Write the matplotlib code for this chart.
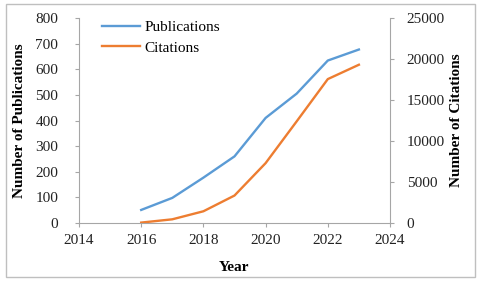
import matplotlib
matplotlib.use('Agg')
import matplotlib.pyplot as plt
from matplotlib.patches import Rectangle

plt.rcParams['font.family'] = 'Liberation Serif'

years = [2016, 2017, 2018, 2019, 2020, 2021, 2022, 2023]
publications = [51, 98, 177, 260, 410, 505, 634, 677]
citations = [50, 450, 1430, 3350, 7300, 12400, 17550, 19300]

blue = '#5B9BD5'
orange = '#ED7D31'
grey = '#A6A6A6'


def style_axis(ax):
    for side in ['top', 'right', 'left', 'bottom']:
        ax.spines[side].set_color(grey)
        ax.spines[side].set_linewidth(0.8)
    ax.spines['top'].set_visible(False)
    ax.tick_params(colors=grey, labelcolor='#222222', labelsize=11,
                   length=3, width=0.8, pad=5)


def main():
    fig = plt.figure(figsize=(4.8, 2.85), dpi=100)
    ax = fig.add_axes([79 / 480, 1 - 223 / 285, 311 / 480, 205 / 285])
    ax2 = ax.twinx()

    l1, = ax.plot(years, publications, color=blue, lw=1.7, label='Publications')
    l2, = ax2.plot(years, citations, color=orange, lw=1.7, label='Citations')

    ax.set_xlim(2014, 2024)
    ax.set_xticks(range(2014, 2025, 2))
    ax.set_ylim(0, 800)
    ax.set_yticks(range(0, 801, 100))
    ax2.set_ylim(0, 25000)
    ax2.set_yticks(range(0, 25001, 5000))

    style_axis(ax)
    style_axis(ax2)
    ax.tick_params(axis='y', pad=12)
    ax2.tick_params(axis='y', pad=9)
    ax.spines['right'].set_visible(False)
    ax2.spines['left'].set_visible(False)
    ax2.spines['bottom'].set_visible(False)

    ax.set_xlabel('Year', fontsize=11, fontweight='bold', labelpad=10)
    ax.set_ylabel('Number of Publications', fontsize=11, fontweight='bold', labelpad=7)
    ax2.set_ylabel('Number of Citations', fontsize=11, fontweight='bold', labelpad=4)

    ax.legend(handles=[l1, l2], loc='upper left', bbox_to_anchor=(0.03, 1.055),
              frameon=False, fontsize=11, handlelength=2.5, handletextpad=0.25,
              labelspacing=0.45)

    fig.patches.append(Rectangle((6 / 480, 1 - 277 / 285), 469 / 480, 273 / 285,
                                 transform=fig.transFigure, fill=False,
                                 edgecolor='#BFBFBF', lw=1))

    fig.savefig('out.png', dpi=100)


if __name__ == '__main__':
    main()
